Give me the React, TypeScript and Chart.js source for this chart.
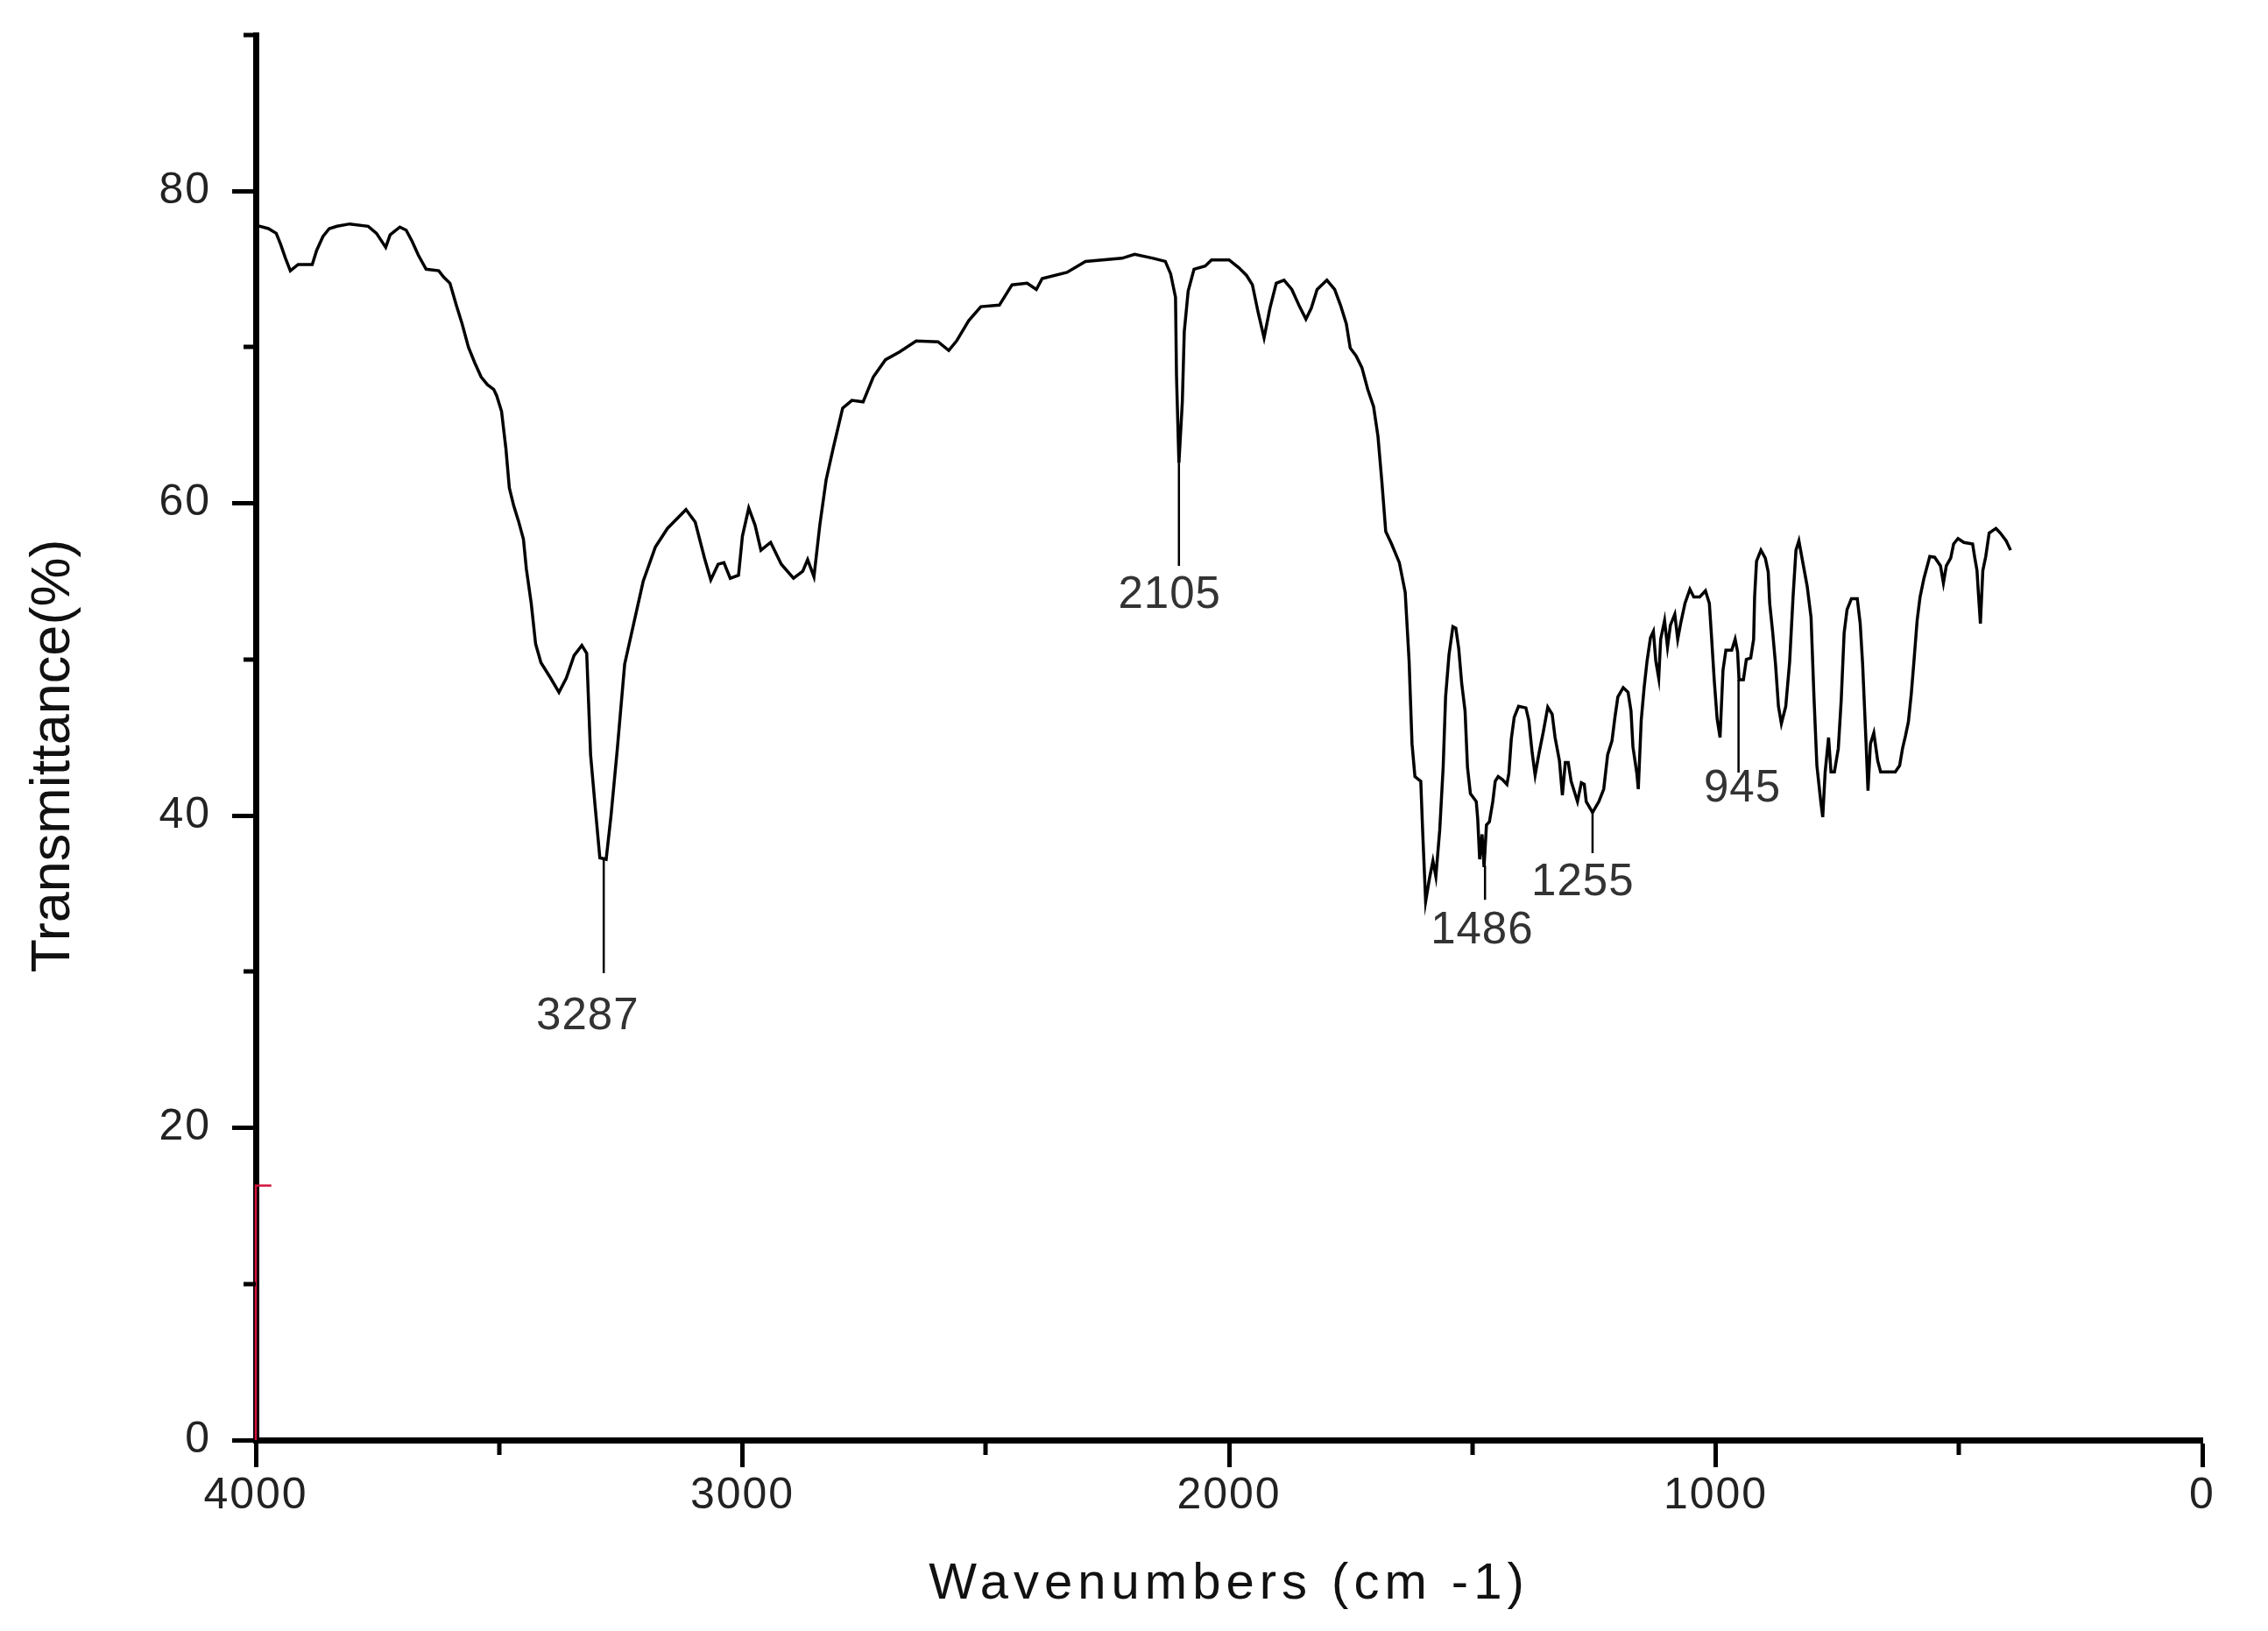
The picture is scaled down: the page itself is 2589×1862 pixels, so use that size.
import React, { useEffect, useRef } from 'react';
import { Chart, registerables } from 'chart.js';

Chart.register(...registerables);

// ---- Spectrum data (wavenumber cm-1, transmittance %) ----
const wavenumbers = [
  3998, 3974, 3958, 3949, 3939, 3929, 3913, 3884, 3875, 3862, 3849, 3833, 3807, 3769, 3752, 3733, 3724, 3704, 3691, 3679,
  3666, 3650, 3624, 3614, 3601, 3588, 3576, 3563, 3550, 3537, 3524, 3511, 3505, 3495, 3486, 3479, 3470, 3460, 3450, 3444,
  3434, 3425, 3414, 3394, 3377, 3362, 3346, 3330, 3320, 3312, 3303, 3293, 3280, 3270, 3257, 3242, 3227, 3204, 3179, 3154,
  3116, 3097, 3078, 3065, 3050, 3038, 3025, 3008, 3000, 2987, 2974, 2962, 2942, 2920, 2895, 2876, 2866, 2853, 2841, 2828,
  2813, 2794, 2775, 2752, 2731, 2706, 2677, 2643, 2598, 2576, 2560, 2535, 2510, 2472, 2446, 2415, 2396, 2384, 2333, 2295,
  2220, 2194, 2156, 2131, 2120, 2110, 2108, 2103, 2096, 2092, 2084, 2072, 2049, 2036, 2000, 1980, 1964, 1952, 1940, 1928,
  1916, 1903, 1887, 1871, 1855, 1842, 1831, 1819, 1799, 1783, 1771, 1759, 1751, 1739, 1727, 1715, 1703, 1694, 1686, 1678,
  1666, 1650, 1638, 1630, 1624, 1618, 1606, 1602, 1596, 1588, 1581, 1575, 1567, 1560, 1555, 1548, 1540, 1534, 1528, 1522,
  1515, 1510, 1504, 1492, 1489, 1485, 1480, 1476, 1471, 1465, 1458, 1453, 1447, 1438, 1429, 1425, 1420, 1414, 1405, 1390,
  1384, 1377, 1371, 1363, 1354, 1345, 1336, 1330, 1321, 1315, 1309, 1303, 1297, 1284, 1276, 1270, 1266, 1253, 1240, 1230,
  1222, 1213, 1207, 1201, 1190, 1180, 1174, 1170, 1162, 1159, 1153, 1147, 1141, 1134, 1128, 1123, 1117, 1113, 1105, 1099,
  1093, 1084, 1078, 1072, 1063, 1053, 1045, 1033, 1021, 1013, 1009, 1003, 997, 991, 985, 979, 967, 960, 955, 952,
  943, 937, 928, 922, 920, 916, 907, 898, 892, 889, 883, 877, 871, 865, 856, 848, 841, 835, 829, 822,
  812, 804, 798, 792, 784, 780, 775, 768, 763, 756, 748, 742, 736, 730, 721, 709, 703, 698, 691, 687,
  682, 675, 667, 661, 631, 622, 616, 610, 604, 598, 592, 586, 580, 572, 566, 560, 550, 538, 532, 526,
  517, 511, 502, 490, 472, 468, 463, 460, 456, 451, 445, 438, 424, 415, 403, 394,
];

const transmittance = [
  77.8, 77.6, 77.3, 76.6, 75.7, 74.9, 75.3, 75.3, 76.2, 77.1, 77.6, 77.75, 77.9, 77.75, 77.3, 76.4, 77.2, 77.7, 77.5, 76.8,
  75.9, 75.0, 74.9, 74.5, 74.1, 72.7, 71.5, 70.0, 69.0, 68.1, 67.6, 67.3, 66.9, 65.9, 63.5, 61.0, 59.85, 58.85, 57.7, 55.8,
  53.6, 51.0, 49.8, 48.8, 47.9, 48.8, 50.25, 50.9, 50.4, 43.9, 40.7, 37.3, 37.2, 40.0, 44.3, 49.7, 51.8, 55.0, 57.2, 58.4,
  59.6, 58.8, 56.5, 55.1, 56.1, 56.2, 55.2, 55.4, 57.9, 59.7, 58.6, 57.0, 57.5, 56.1, 55.2, 55.65, 56.4, 55.3, 58.6, 61.5,
  63.6, 66.1, 66.6, 66.5, 68.1, 69.2, 69.7, 70.4, 70.35, 69.8, 70.4, 71.7, 72.6, 72.7, 74.0, 74.1, 73.7, 74.4, 74.8, 75.5,
  75.7, 75.95, 75.7, 75.5, 74.7, 73.2, 68.2, 62.6, 66.5, 71.0, 73.6, 75.0, 75.2, 75.6, 75.6, 75.1, 74.6, 74.0, 72.2, 70.6,
  72.5, 74.1, 74.3, 73.7, 72.6, 71.8, 72.5, 73.7, 74.3, 73.7, 72.7, 71.5, 69.95, 69.45, 68.7, 67.3, 66.2, 64.3, 61.4, 58.2,
  57.4, 56.2, 54.3, 49.9, 44.6, 42.5, 42.2, 38.9, 34.5, 36.0, 37.1, 36.1, 39.1, 43.1, 47.6, 50.3, 52.1, 52.0, 50.7, 48.5,
  46.7, 43.1, 41.4, 40.9, 39.8, 37.2, 38.8, 36.7, 39.4, 39.6, 40.9, 42.2, 42.5, 42.3, 42.0, 42.7, 44.9, 46.3, 47.0, 46.9,
  46.1, 44.0, 42.6, 44.0, 45.4, 46.95, 46.5, 45.0, 43.5, 41.3, 43.4, 43.4, 42.2, 40.9, 42.1, 42.0, 40.9, 40.2, 40.9, 41.7,
  43.9, 44.8, 46.3, 47.6, 48.2, 47.9, 46.7, 44.4, 42.7, 41.7, 46.1, 48.2, 49.9, 51.4, 51.8, 49.9, 48.8, 51.3, 52.5, 50.8,
  52.2, 52.9, 51.3, 52.3, 53.6, 54.5, 54.0, 54.0, 54.4, 53.6, 51.7, 48.7, 46.2, 45.0, 49.3, 50.6, 50.6, 51.3, 50.5, 48.7,
  48.7, 50.0, 50.1, 51.3, 54.0, 56.3, 57.0, 56.5, 55.6, 53.6, 51.8, 49.7, 47.0, 45.9, 47.0, 49.85, 54.0, 57.0, 57.6, 56.4,
  54.7, 52.7, 47.6, 43.2, 40.9, 39.9, 42.8, 45.0, 42.8, 42.8, 44.3, 47.4, 51.7, 53.2, 53.9, 53.9, 52.3, 49.7, 44.7, 41.6,
  44.6, 45.3, 43.5, 42.8, 42.8, 43.2, 44.3, 45.1, 46.0, 47.8, 50.1, 52.5, 54.0, 55.2, 55.9, 56.6, 56.55, 56.0, 54.9, 56.0,
  56.5, 57.4, 57.75, 57.5, 57.4, 56.6, 55.7, 54.2, 52.3, 55.7, 56.6, 58.1, 58.4, 58.1, 57.6, 57.0,
];

// ---- Peak annotations ----
const peakLabels = ['3287', '2105', '1486', '1255', '945'];
const peakLabelX = [3318, 2122, 1480, 1273, 945];
const peakLabelY = [27.1, 54.1, 32.6, 35.7, 41.7];
const leaderX = [3285, 2103, 1474, 1253, 953];
const leaderTop = [37.3, 62.6, 36.8, 40.2, 48.7];
const leaderBottom = [29.9, 56.0, 34.6, 37.6, 42.75];

// ---- Small red marker at the left edge ----
const markerX = [3968, 4000, 4000];
const markerY = [16.3, 16.3, 0];

// ---- Axes ----
const xMajorTicks = [0, 1000, 2000, 3000, 4000];
const yMajorTicks = [0, 20, 40, 60, 80];
const xTitle = 'Wavenumbers (cm -1)';
const yTitle = 'Transmittance(%)';

const FONT = '"Liberation Sans", Arial, Helvetica, sans-serif';

const overlayPlugin = {
  id: 'overlay',
  beforeDraw(chart: any) {
    (chart.ctx as any).letterSpacing = '2px';
  },
  afterDraw(chart: any) {
    const ctx = chart.ctx as any;
    const xs = chart.scales.x;
    const ys = chart.scales.y;
    const area = chart.chartArea;
    ctx.save();
    // minor ticks
    ctx.strokeStyle = '#000';
    ctx.lineWidth = 5;
    ctx.lineCap = 'butt';
    xs.ticks.forEach((t: any) => {
      if (!xMajorTicks.includes(t.value)) {
        const px = Math.round(xs.getPixelForValue(t.value));
        ctx.beginPath();
        ctx.moveTo(px, area.bottom);
        ctx.lineTo(px, area.bottom + 17);
        ctx.stroke();
      }
    });
    ys.ticks.forEach((t: any) => {
      if (!yMajorTicks.includes(t.value)) {
        const py = Math.round(ys.getPixelForValue(t.value));
        ctx.beginPath();
        ctx.moveTo(area.left, py);
        ctx.lineTo(area.left - 14, py);
        ctx.stroke();
      }
    });

    // peak labels
    ctx.fillStyle = '#333';
    ctx.font = `51px ${FONT}`;
    ctx.letterSpacing = '1px';
    ctx.textAlign = 'center';
    ctx.textBaseline = 'middle';
    peakLabels.forEach((lab, i) => {
      ctx.fillText(lab, xs.getPixelForValue(peakLabelX[i]), ys.getPixelForValue(peakLabelY[i]));
    });

    // axis titles
    ctx.fillStyle = '#111';
    ctx.font = `58px ${FONT}`;
    ctx.letterSpacing = '6px';
    ctx.fillText(xTitle, (area.left + area.right) / 2, 1809);

    ctx.font = `63px ${FONT}`;
    ctx.letterSpacing = '0px';
    ctx.translate(62, 863);
    ctx.rotate(-Math.PI / 2);
    ctx.fillText(yTitle, 0, 0);
    ctx.restore();
    ctx.letterSpacing = '0px';
  },
};

export default function App() {
  const canvasRef = useRef<HTMLCanvasElement | null>(null);

  useEffect(() => {
    const canvas = canvasRef.current;
    if (!canvas) return;

    const spectrum = wavenumbers.map((x, i) => ({ x, y: transmittance[i] }));
    const leaders = leaderX.map((x, i) => ({
      label: `leader ${peakLabels[i]}`,
      data: [
        { x, y: leaderTop[i] },
        { x, y: leaderBottom[i] },
      ],
      borderColor: '#000',
      borderWidth: 2.5,
      pointRadius: 0,
      fill: false,
      tension: 0,
    }));

    const chart = new Chart(canvas, {
      type: 'line',
      data: {
        datasets: [
          {
            label: 'IR spectrum',
            data: spectrum,
            borderColor: '#000',
            borderWidth: 3.5,
            pointRadius: 0,
            fill: false,
            tension: 0,
          },
          ...leaders,
          {
            label: 'marker',
            data: markerX.map((x, i) => ({ x, y: markerY[i] })),
            borderColor: '#d4123c',
            borderWidth: 2.5,
            pointRadius: 0,
            fill: false,
            tension: 0,
            clip: false,
          } as any,
        ],
      },
      options: {
        animation: false,
        responsive: false,
        devicePixelRatio: 1,
        layout: { padding: { top: 40, right: 75, left: 0, bottom: 0 } },
        plugins: {
          legend: { display: false },
          tooltip: { enabled: false },
        },
        elements: { point: { radius: 0 } },
        scales: {
          x: {
            type: 'linear',
            position: 'bottom',
            reverse: true,
            min: 0,
            max: 4000,
            afterFit: (s: any) => {
              s.height = 218;
              s.paddingLeft = 0;
              s.paddingRight = 0;
            },
            ticks: {
              stepSize: 500,
              autoSkip: false,
              maxRotation: 0,
              minRotation: 0,
              padding: 3,
              color: '#222',
              font: { family: FONT, size: 50 },
              callback: (v: any) => (xMajorTicks.includes(Number(v)) ? String(v) : ''),
            },
            grid: {
              drawOnChartArea: false,
              drawTicks: true,
              tickLength: 31,
              tickWidth: 5,
              tickColor: (c: any) =>
                c.tick && xMajorTicks.includes(c.tick.value) ? '#000' : 'rgba(0,0,0,0)',
            },
            border: { display: true, color: '#000', width: 7 },
          },
          y: {
            type: 'linear',
            position: 'left',
            min: 0,
            max: 90,
            afterFit: (s: any) => {
              s.width = 292;
              s.paddingTop = 0;
              s.paddingBottom = 0;
            },
            ticks: {
              stepSize: 10,
              autoSkip: false,
              padding: 24,
              color: '#222',
              font: { family: FONT, size: 50 },
              callback: (v: any) => (yMajorTicks.includes(Number(v)) ? String(v) : ''),
            },
            grid: {
              drawOnChartArea: false,
              drawTicks: true,
              tickLength: 27,
              tickWidth: 5,
              tickColor: (c: any) =>
                c.tick && yMajorTicks.includes(c.tick.value) ? '#000' : 'rgba(0,0,0,0)',
            },
            border: { display: true, color: '#000', width: 7 },
          },
        },
      } as any,
      plugins: [overlayPlugin],
    });

    return () => {
      chart.destroy();
    };
  }, []);

  return (
    <div
      style={{
        position: 'fixed',
        left: 0,
        top: 0,
        width: 2589,
        height: 1862,
        background: '#fff',
      }}
    >
      <canvas ref={canvasRef} width={2589} height={1862} style={{ width: 2589, height: 1862 }} />
    </div>
  );
}
